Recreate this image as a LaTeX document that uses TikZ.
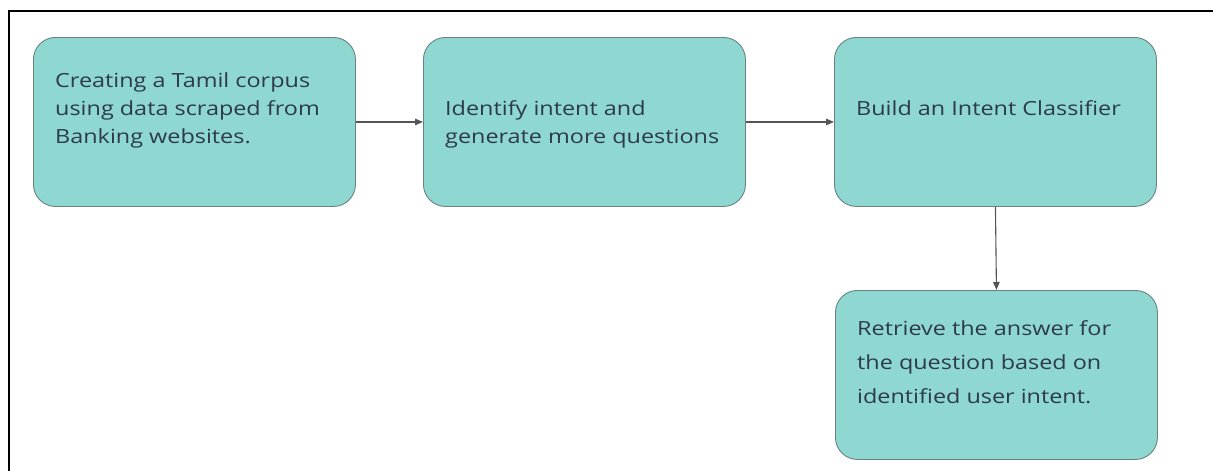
\documentclass[tikz,border=0pt]{standalone}
\usepackage{fontspec}
\setmainfont[FakeStretch=1.2]{Open Sans}
\usetikzlibrary{arrows.meta}
\definecolor{boxfill}{RGB}{142,216,209}
\definecolor{boxline}{RGB}{105,130,128}
\definecolor{boxtext}{RGB}{45,58,72}
\definecolor{linkcol}{RGB}{85,85,85}
\tikzset{
  x=1pt, y=-1pt,
  stepbox/.style={draw=boxline, line width=0.9pt, fill=boxfill, rounded corners=22pt,
    minimum width=322pt, minimum height=169pt, inner sep=0pt, anchor=north west},
  steptext/.style={anchor=base west, inner sep=0pt, text=boxtext, font=\fontsize{19.5}{28}\selectfont},
  link/.style={draw=linkcol, line width=1.1pt, -{Triangle[length=8pt,width=6.5pt]}},
  frame/.style={draw=black, line width=2pt}
}
\begin{document}
\begin{tikzpicture}
\useasboundingbox (0,0) rectangle (1213,471);
% outer frame: top and left edges only
\coordinate (ftl) at (9,11);
\coordinate (ftr) at (1213,11);
\coordinate (fbl) at (9,471);
\draw[frame] (ftr) -- (ftl) -- (fbl);

% boxes
\node[stepbox] (b1) at (33,37) {};
\node[stepbox] (b2) at (423,37) {};
\node[stepbox] (b3) at (834,37) {};
\node[stepbox] (b4) at (835,290) {};

% box texts
\node[steptext] (t1) at ([shift={(22pt,-50pt)}]b1.north west)
  {\parbox[t]{300pt}{\setlength\baselineskip{28pt}Creating a Tamil corpus\\using data scraped from\\Banking websites.}};
\node[steptext] (t2) at ([shift={(22pt,-78pt)}]b2.north west)
  {\parbox[t]{300pt}{\setlength\baselineskip{28pt}Identify intent and\\generate more questions}};
\node[steptext] (t3) at ([shift={(22pt,-78pt)}]b3.north west)
  {\parbox[t]{300pt}{Build an Intent Classifier}};
\node[steptext] (t4) at ([shift={(22pt,-45pt)}]b4.north west)
  {\parbox[t]{300pt}{\setlength\baselineskip{34pt}Retrieve the answer for\\the question based on\\identified user intent.}};

% connectors
\draw[link] (b1.east) -- (b2.west);
\draw[link] (b2.east) -- (b3.west);
\draw[link] (b3.south) -- (b4.north);
\end{tikzpicture}
\end{document}
